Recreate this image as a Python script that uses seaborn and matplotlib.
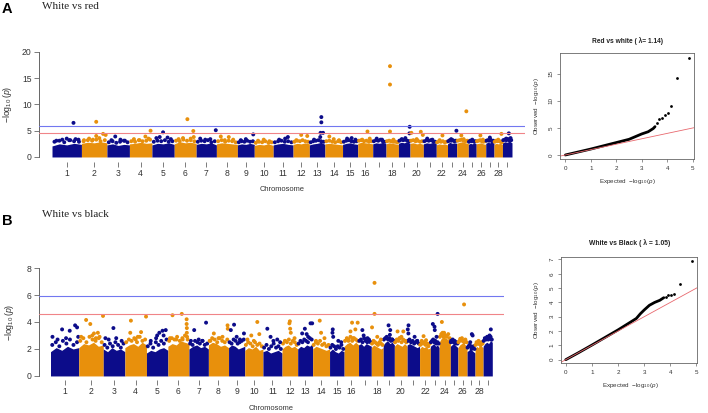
import numpy as np
import pandas as pd
import matplotlib
matplotlib.use("Agg")
import matplotlib.pyplot as plt
import seaborn as sns

# autosome lengths in Mb (29 chromosomes)
chrom_len = [157, 136, 120, 120, 119, 117, 108, 112, 90, 101, 106, 87, 83, 94,
             81, 80, 71, 66, 62, 71, 69, 60, 49, 62, 42, 51, 44, 45, 51]
chrom_lab = [str(i) for i in range(1, 17)] + ['', '18', '', '20', '', '22', '',
                                             '24', '', '26', '', '28', '']

# thresholds
line_blue = 5.9
line_red = 4.6

# dense part of each chromosome, upper edge of the solid cloud (-log10 p)
a_env = [[2.1, 2.5, 2.3, 2.6, 2.4], [2.6, 2.8, 2.7, 2.9, 2.7], [2.3, 2.5, 2.2, 2.4, 2.3],
         [2.5, 2.6, 2.8, 2.6, 2.7], [2.3, 2.6, 2.5, 2.7, 2.4], [2.5, 2.9, 2.7, 2.8, 2.6],
         [2.4, 2.6, 2.5, 2.7, 2.3], [2.5, 2.7, 2.6, 2.5, 2.4], [2.3, 2.5, 2.4, 2.6, 2.4],
         [2.2, 2.4, 2.3, 2.5, 2.2], [2.3, 2.5, 2.6, 2.4, 2.3], [2.4, 2.6, 2.5, 2.7, 2.5],
         [2.3, 2.5, 2.6, 2.8, 2.4], [2.5, 2.6, 2.5, 2.4, 2.3], [2.4, 2.6, 2.7, 2.5, 2.4],
         [2.6, 2.8, 2.7, 2.6, 2.5], [2.5, 2.7, 2.6, 2.8, 2.5], [2.5, 2.7, 2.6, 2.5, 2.4],
         [2.6, 2.8, 2.7, 2.9, 2.6], [2.6, 2.7, 2.5, 2.6, 2.4], [2.5, 2.7, 2.6, 2.8, 2.5],
         [2.3, 2.5, 2.4, 2.5, 2.3], [2.5, 2.8, 2.6, 2.7, 2.6], [2.6, 2.8, 2.9, 2.7, 2.6],
         [2.4, 2.6, 2.5, 2.7, 2.5], [2.5, 2.6, 2.7, 2.5, 2.4], [2.6, 2.8, 2.7, 2.9, 2.6],
         [2.4, 2.6, 2.5, 2.6, 2.4], [2.7, 2.9, 2.8, 3.0, 2.7]]

# loose points just above the solid cloud, one per equal bin along the chromosome
a_speck = [[2.9, 3.1, 2.8, 3.2, 3.0, 2.9], [3.0, 3.2, 3.1, 3.3, 3.0, 3.2], [2.8, 3.0, 2.7, 2.9, 3.1, 2.8],
           [3.0, 2.9, 3.2, 3.0, 3.1, 3.3], [2.9, 3.1, 3.0, 3.2, 2.9, 3.0], [3.1, 3.0, 3.3, 3.1, 3.2, 3.0],
           [2.9, 3.1, 3.0, 3.2, 2.8, 3.0], [3.0, 3.2, 2.9, 3.1, 3.0, 2.8], [2.8, 3.0, 2.9, 3.1, 2.9, 3.0],
           [2.7, 2.9, 2.8, 3.0, 2.7, 2.8], [2.8, 3.0, 3.1, 2.9, 3.0, 2.8], [2.9, 3.1, 3.0, 3.2, 3.0, 2.9],
           [2.8, 3.0, 3.1, 3.2, 3.0, 2.9], [3.0, 3.1, 2.9, 2.8, 3.0, 2.8], [2.9, 3.1, 3.2, 3.0, 2.9, 3.0],
           [3.1, 3.2, 3.0, 3.1, 2.9, 3.0], [3.0, 3.2, 3.1, 3.3, 3.0, 2.9], [3.0, 3.1, 3.0, 2.9, 2.9, 2.8],
           [3.1, 3.3, 3.2, 3.3, 3.1, 3.0], [3.1, 3.2, 3.0, 3.1, 2.9, 3.0], [3.0, 3.2, 3.1, 3.2, 3.0, 2.9],
           [2.8, 3.0, 2.9, 3.0, 2.8, 2.9], [3.0, 3.2, 3.1, 3.2, 3.0, 3.1], [3.1, 3.2, 3.3, 3.1, 3.0, 3.1],
           [2.9, 3.1, 3.0, 3.1, 2.9, 3.0], [3.0, 3.1, 3.2, 3.0, 2.9, 3.0], [3.1, 3.2, 3.1, 3.3, 3.0, 3.1],
           [2.9, 3.1, 3.0, 3.1, 2.9, 2.8], [3.2, 3.3, 3.2, 3.4, 3.1, 3.2]]

# single SNPs: (chromosome, relative position, -log10 p)
a_hits = [(1, .15, 3.1), (1, .35, 3.3), (1, .5, 3.5), (1, .62, 3.2), (1, .73, 6.5), (1, .8, 3.4), (1, .9, 3.3),
          (2, .1, 3.2), (2, .3, 3.5), (2, .45, 3.3), (2, .58, 6.7), (2, .58, 4.0), (2, .7, 3.6), (2, .85, 4.4), (2, .95, 4.2),
          (3, .2, 3.2), (3, .37, 3.9), (3, .6, 3.3), (3, .8, 3.1),
          (4, .2, 3.4), (4, .45, 3.2), (4, .71, 3.9), (4, .85, 3.5), (4, .94, 5.0),
          (5, .2, 3.6), (5, .35, 3.8), (5, .5, 4.7), (5, .7, 3.7), (5, .85, 3.4),
          (6, .2, 3.4), (6, .4, 3.6), (6, .6, 7.2), (6, .75, 3.5), (6, .87, 4.95), (6, .89, 3.8),
          (7, .2, 3.5), (7, .45, 3.3), (7, .7, 3.4), (7, .97, 5.1),
          (8, .21, 3.9), (8, .4, 3.2), (8, .59, 3.8), (8, .8, 3.3),
          (9, .2, 3.2), (9, .5, 3.4), (9, .94, 4.3),
          (10, .2, 3.1), (10, .5, 3.3), (10, .8, 3.0),
          (11, .3, 3.3), (11, .6, 3.5), (11, .74, 3.8),
          (12, .2, 3.2), (12, .5, 4.2), (12, .87, 4.0),
          (13, .3, 3.3), (13, .7, 3.8), (13, .72, 4.6), (13, .77, 6.6), (13, .77, 7.6), (13, .88, 4.6),
          (14, .25, 3.9), (14, .5, 3.4), (14, .8, 3.2),
          (15, .3, 3.5), (15, .6, 3.6), (15, .85, 3.3),
          (16, .3, 3.3), (16, .65, 4.85), (16, .8, 3.5),
          (17, .3, 3.5), (17, .7, 3.3),
          (18, .32, 17.3), (18, .32, 13.8), (18, .32, 4.85), (18, .6, 3.3),
          (19, .3, 3.4), (19, .6, 3.6), (19, .95, 4.5), (19, .97, 5.75),
          (20, .1, 4.6), (20, .5, 3.4), (20, .81, 4.8), (20, .96, 4.2),
          (21, .3, 3.5), (21, .7, 3.3),
          (22, .3, 3.2), (22, .55, 4.1),
          (23, .4, 3.4), (23, .97, 5.0),
          (24, .4, 4.1), (24, .6, 3.4), (24, .83, 8.7),
          (25, .5, 3.3),
          (26, .44, 4.1), (26, .7, 3.3),
          (27, .5, 3.7),
          (28, .5, 3.3), (28, .88, 4.4),
          (29, .4, 3.5), (29, .67, 4.5), (29, .85, 3.6)]

b_env = [[1.8, 2.1, 1.9, 2.2, 2.0, 2.1], [2.1, 2.4, 2.3, 2.5, 2.2, 2.3], [2.0, 1.8, 2.1, 1.9, 2.0, 1.8],
         [2.1, 2.3, 2.4, 2.2, 2.5, 2.3], [1.7, 1.9, 1.8, 2.0, 2.1, 1.9], [2.2, 2.4, 2.3, 2.6, 2.5, 2.4],
         [2.0, 2.2, 2.3, 2.1, 2.2, 2.0], [2.3, 2.5, 2.4, 2.2, 2.3, 2.1], [2.1, 2.3, 2.2, 2.0, 2.1, 2.2],
         [1.9, 2.1, 2.0, 2.2, 1.9, 2.0], [1.8, 1.9, 1.7, 1.8, 1.9, 1.7], [2.0, 2.2, 2.3, 2.1, 2.2, 2.0],
         [2.0, 2.2, 2.1, 2.3, 2.2, 2.4], [2.0, 2.2, 2.1, 2.0, 1.9, 2.0], [1.8, 2.0, 1.8, 1.7, 1.9, 1.8],
         [2.2, 2.4, 2.5, 2.3, 2.5, 2.3], [2.3, 2.4, 2.2, 2.4, 2.3, 2.2], [2.1, 2.3, 2.2, 2.1, 2.0, 2.1],
         [2.3, 2.5, 2.6, 2.4, 2.5, 2.3], [2.2, 2.4, 2.3, 2.2, 2.4, 2.2], [2.3, 2.4, 2.3, 2.2, 2.1, 2.2],
         [2.0, 2.2, 2.1, 2.2, 2.0, 2.1], [2.2, 2.3, 2.4, 2.2, 2.3, 2.1], [2.5, 2.8, 2.9, 2.8, 2.7, 2.5],
         [2.2, 2.3, 2.4, 2.3, 2.2, 2.1], [2.1, 2.3, 2.4, 2.5, 2.3, 2.2], [1.8, 1.9, 2.0, 1.9, 1.8, 1.7],
         [2.0, 2.2, 2.1, 2.3, 2.2, 2.1], [2.2, 2.4, 2.5, 2.4, 2.6, 2.5]]

b_speck = [[2.3, 2.5, 2.2, 2.6, 2.4, 2.7, 2.3, 2.5], [2.6, 2.8, 2.5, 2.9, 2.7, 2.6, 2.8, 2.5],
           [2.3, 2.1, 2.4, 2.2, 2.5, 2.3, 2.1, 2.4], [2.5, 2.7, 2.6, 2.8, 2.5, 2.9, 2.6, 2.7],
           [2.2, 2.4, 2.1, 2.5, 2.3, 2.6, 2.4, 2.7], [2.6, 2.8, 2.7, 2.9, 2.6, 2.8, 3.0, 2.7],
           [2.4, 2.3, 2.6, 2.5, 2.4, 2.6, 2.3, 2.4], [2.6, 2.8, 2.7, 2.5, 2.8, 2.6, 2.5, 2.7],
           [2.5, 2.4, 2.7, 2.6, 2.4, 2.5, 2.6, 2.7], [2.3, 2.5, 2.4, 2.2, 2.5, 2.3, 2.4, 2.2],
           [2.1, 2.3, 2.0, 2.2, 2.4, 2.1, 2.2, 2.0], [2.4, 2.6, 2.5, 2.7, 2.4, 2.6, 2.5, 2.3],
           [2.4, 2.6, 2.5, 2.7, 2.6, 2.5, 2.8, 2.7], [2.3, 2.5, 2.4, 2.6, 2.3, 2.4, 2.2, 2.3],
           [2.1, 2.3, 2.2, 2.0, 2.2, 2.1, 2.3, 2.0], [2.6, 2.8, 2.7, 2.9, 2.6, 2.8, 2.7, 2.6],
           [2.6, 2.7, 2.5, 2.8, 2.6, 2.5, 2.7, 2.5], [2.4, 2.6, 2.5, 2.4, 2.3, 2.5, 2.4, 2.3],
           [2.7, 2.8, 2.9, 2.7, 2.8, 2.6, 2.7, 2.6], [2.5, 2.7, 2.6, 2.8, 2.5, 2.7, 2.6, 2.5],
           [2.6, 2.7, 2.5, 2.6, 2.4, 2.5, 2.6, 2.4], [2.3, 2.5, 2.4, 2.5, 2.3, 2.4, 2.2, 2.4],
           [2.5, 2.6, 2.7, 2.5, 2.6, 2.4, 2.5, 2.4], [2.9, 3.1, 3.0, 3.2, 3.0, 2.9, 3.1, 2.8],
           [2.5, 2.6, 2.7, 2.5, 2.6, 2.4, 2.5, 2.4], [2.5, 2.6, 2.7, 2.8, 2.6, 2.5, 2.7, 2.5],
           [2.1, 2.2, 2.3, 2.2, 2.0, 2.1, 2.2, 2.0], [2.3, 2.5, 2.4, 2.6, 2.4, 2.3, 2.5, 2.4],
           [2.6, 2.8, 2.7, 2.9, 2.7, 2.8, 2.9, 2.7]]

b_hits = [(1, .07, 2.9), (1, .25, 2.7), (1, .41, 3.45), (1, .55, 2.8), (1, .68, 3.35), (1, .87, 3.75), (1, .94, 3.6), (1, .98, 2.9),
          (2, .1, 2.9), (2, .3, 4.15), (2, .47, 3.85), (2, .55, 3.0), (2, .62, 3.15), (2, .7, 2.8), (2, .78, 3.2), (2, .85, 2.9), (2, .99, 4.45),
          (3, .1, 2.8), (3, .25, 2.7), (3, .47, 3.55), (3, .6, 2.8), (3, .85, 2.6),
          (4, .25, 3.2), (4, .28, 4.1), (4, .5, 2.7), (4, .6, 2.9), (4, .75, 3.25), (4, .98, 4.4),
          (5, .2, 2.6), (5, .45, 2.8), (5, .5, 3.0), (5, .6, 3.2), (5, .75, 3.35), (5, .8, 3.0), (5, .9, 3.4),
          (6, .1, 2.8), (6, .22, 4.5), (6, .4, 2.7), (6, .66, 4.6), (6, .7, 2.7), (6, .89, 4.2), (6, .89, 3.85), (6, .9, 3.55), (6, .9, 3.2), (6, .91, 2.9),
          (7, .1, 2.6), (7, .27, 3.4), (7, .5, 2.7), (7, .7, 2.6), (7, .88, 3.95),
          (8, .1, 2.6), (8, .27, 3.15), (8, .5, 2.8), (8, .7, 2.9), (8, .95, 3.75), (8, .96, 3.5),
          (9, .14, 3.4), (9, .34, 3.8), (9, .5, 2.9), (9, .7, 2.7), (9, .95, 3.15),
          (10, .15, 2.7), (10, .36, 3.0), (10, .5, 2.6), (10, .69, 4.0), (10, .8, 3.1),
          (11, .23, 3.5), (11, .4, 2.9), (11, .55, 2.6), (11, .75, 2.7), (11, .9, 2.5),
          (12, .2, 2.6), (12, .47, 3.9), (12, .5, 4.05), (12, .52, 3.5), (12, .56, 3.2), (12, .8, 2.8),
          (13, .3, 3.15), (13, .48, 3.5), (13, .6, 3.1), (13, .7, 2.9), (13, .86, 3.9), (13, .97, 3.9),
          (14, .2, 2.6), (14, .42, 4.1), (14, .5, 3.2), (14, .7, 2.8),
          (15, .2, 3.2), (15, .22, 3.45), (15, .25, 2.9), (15, .6, 2.6), (15, .8, 2.5),
          (16, .3, 2.6), (16, .44, 3.3), (16, .55, 3.95), (16, .6, 2.8), (16, .78, 3.45), (16, .94, 3.95),
          (17, .3, 3.4), (17, .4, 3.0), (17, .7, 2.8), (17, .85, 2.6),
          (18, .06, 3.6), (18, .27, 4.6), (18, .27, 6.9), (18, .5, 2.9), (18, .8, 2.7),
          (19, .3, 2.8), (19, .48, 3.75), (19, .6, 3.05), (19, .63, 3.4), (19, .8, 2.7),
          (20, .25, 3.3), (20, .4, 2.8), (20, .55, 2.9), (20, .7, 3.3), (20, .85, 2.6),
          (21, .05, 3.45), (21, .1, 3.15), (21, .11, 3.75), (21, .6, 2.9), (21, .8, 2.6),
          (22, .2, 2.6), (22, .37, 2.95), (22, .6, 2.65),
          (23, .28, 3.85), (23, .47, 3.65), (23, .5, 3.4), (23, .7, 2.9), (23, .82, 4.6),
          (24, .24, 4.0), (24, .3, 3.2), (24, .4, 2.9), (24, .5, 3.0),
          (25, .1, 2.6), (25, .5, 2.5),
          (26, .25, 2.75), (26, .5, 2.6), (26, .67, 5.3),
          (27, .4, 2.5), (27, .6, 3.1), (27, .7, 3.0),
          (28, .4, 2.4), (28, .7, 2.3),
          (29, .4, 2.8), (29, .7, 3.0), (29, .84, 3.45), (29, .9, 2.7)]

# QQ plots: expected vs observed -log10(p)
qa_exp = [0, 0.5, 1, 1.5, 2, 2.5, 3, 3.25, 3.45, 3.52]
qa_obs = [0, 0.55, 1.1, 1.7, 2.3, 2.9, 3.9, 4.3, 4.9, 5.25]
qa_top_exp = [3.59, 3.68, 3.78, 3.91, 4.02, 4.15, 4.4, 4.86]
qa_top_obs = [5.86, 6.67, 6.8, 7.4, 7.7, 9.0, 14.3, 18.0]

qb_exp = [0, 0.5, 1, 1.5, 2, 2.5, 2.7, 2.85, 3.0, 3.2, 3.4, 3.6, 3.75]
qb_obs = [0, 0.5, 1.02, 1.55, 2.08, 2.65, 2.88, 3.2, 3.47, 3.8, 4.0, 4.15, 4.33]
qb_top_exp = [3.83, 3.93, 4.02, 4.15, 4.37, 4.83]
qb_top_obs = [4.4, 4.5, 4.53, 4.58, 5.28, 6.88]

navy = '#0c0c8a'
orange = '#e8900c'
blue_c = '#7277f0'
red_c = '#f08488'
axis_c = '#666666'
text_c = '#333333'

sns.set_style('white')
plt.rcParams['font.family'] = ['Liberation Sans', 'DejaVu Sans']
plt.rcParams['mathtext.fontset'] = 'custom'
plt.rcParams['mathtext.rm'] = 'Liberation Sans'
plt.rcParams['mathtext.it'] = 'Liberation Sans:italic'

W, H = 708, 413
fig = plt.figure(figsize=(W / 100, H / 100), dpi=100)


def px_axes(l, t, r, b):
    return fig.add_axes([l / W, 1 - b / H, (r - l) / W, (b - t) / H])


def ftext(x, y, s, **kw):
    fig.text(x / W, 1 - y / H, s, **kw)


starts = np.concatenate([[0], np.cumsum(chrom_len)[:-1]])
centers = starts + np.array(chrom_len) / 2


def manhattan(ax, env, speck, hits, xlim, ylim, ytop, ystep):
    rows = []
    for i in range(len(chrom_len)):
        col = navy if i % 2 == 0 else orange
        xs = starts[i] + chrom_len[i] * np.linspace(0, 1, len(env[i]))
        ax.fill_between(xs, 0, env[i], color=col, lw=0, zorder=1)
        n = len(speck[i])
        for k, v in enumerate(speck[i]):
            rows.append((i + 1, (k + 0.5) / n, v))
    rows += hits

    df = pd.DataFrame(rows, columns=['chr', 'frac', 'logp'])
    idx = df['chr'] - 1
    df['pos'] = starts[idx] + df['frac'] * np.array(chrom_len)[idx]
    df['grp'] = np.where(df['chr'] % 2 == 1, 'odd', 'even')
    sns.scatterplot(data=df, x='pos', y='logp', hue='grp',
                    palette={'odd': navy, 'even': orange},
                    s=8, linewidth=0, legend=False, ax=ax, zorder=2)

    ax.axhline(line_blue, color=blue_c, lw=0.8, zorder=3)
    ax.axhline(line_red, color=red_c, lw=0.8, zorder=3)

    ax.set_xlim(xlim)
    ax.set_ylim(ylim)
    ax.set_xticks(centers)
    ax.set_xticklabels(chrom_lab)
    yt = np.arange(0, ytop + 0.1, ystep)
    ax.set_yticks(yt)
    ax.set_yticklabels([str(int(v)) for v in yt])
    for s in ['top', 'right', 'bottom']:
        ax.spines[s].set_visible(False)
    ax.spines['left'].set_bounds(0, ytop)
    ax.spines['left'].set_color(axis_c)
    ax.spines['left'].set_linewidth(0.7)
    ax.tick_params(axis='both', length=3.8, width=0.6, color=axis_c,
                   labelsize=6.2, labelcolor=text_c, direction='out')
    ax.tick_params(axis='x', pad=1.5, bottom=True)
    ax.tick_params(axis='y', pad=1.5, left=True)
    ax.set_xlabel('')
    ax.set_ylabel('')


def qqplot(ax, cx, cy, tx, ty, xlim, ylim, yticks):
    sns.lineplot(x=cx, y=cy, color='black', lw=2.0, ax=ax)
    sns.scatterplot(x=tx, y=ty, color='black', s=4, linewidth=0, ax=ax)
    ax.axline((0, 0), slope=1, color='#e8686e', lw=0.6)
    ax.set_xlim(xlim)
    ax.set_ylim(ylim)
    ax.set_xticks(range(6))
    ax.set_yticks(yticks)
    for s in ax.spines.values():
        s.set_color(axis_c)
        s.set_linewidth(0.6)
    ax.tick_params(axis='both', length=2, width=0.5, color=axis_c,
                   labelsize=4.5, labelcolor=text_c, direction='out',
                   bottom=True, left=True)
    ax.tick_params(axis='x', pad=3)
    ax.tick_params(axis='y', pad=2.5)
    for lab in ax.get_yticklabels():
        lab.set_rotation(90)
        lab.set_va('center')
    ax.set_xlabel('')
    ax.set_ylabel('')


# panel A
ax1 = px_axes(39, 47.8, 525, 161.7)
manhattan(ax1, a_env, a_speck, a_hits, (-69.4, 2523.4), (-0.9, 20.8), 20, 5)
ftext(282, 189.3, 'Chromosome', ha='center', va='center', fontsize=5.4, color=text_c)
ftext(7, 104.5, r'$-\log_{10}(p)$', ha='center', va='center', rotation=90, fontsize=6.3, color=text_c)

ax2 = px_axes(560, 53.3, 694, 159.3)
qqplot(ax2, qa_exp, qa_obs, qa_top_exp, qa_top_obs, (-0.21, 5.05), (-0.8, 18.83), [0, 5, 10, 15])
ftext(627.3, 40.7, 'Red vs white ( \u03bb= 1.14)', ha='center', va='center', fontsize=4.8, fontweight='bold', color='#222222')
ftext(627, 182, r'Expected  $-\log_{10}(p)$', ha='center', va='center', fontsize=4.5, color=text_c)
ftext(536.5, 106.3, r'Observed  $-\log_{10}(p)$', ha='center', va='center', rotation=90, fontsize=4.5, color=text_c)

# panel B
ax3 = px_axes(39, 263.7, 504, 380)
manhattan(ax3, b_env, b_speck, b_hits, (-63.9, 2519), (-0.3, 8.32), 8, 2)
ftext(271.5, 408.7, 'Chromosome', ha='center', va='center', fontsize=5.4, color=text_c)
ftext(10, 322, r'$-\log_{10}(p)$', ha='center', va='center', rotation=90, fontsize=6.3, color=text_c)

ax4 = px_axes(561, 257.3, 697, 363)
qqplot(ax4, qb_exp, qb_obs, qb_top_exp, qb_top_obs, (-0.18, 5.02), (-0.23, 7.15), list(range(8)))
ftext(629.2, 243.3, 'White vs Black ( \u03bb = 1.05)', ha='center', va='center', fontsize=4.9, fontweight='bold', color='#222222')
ftext(630, 386, r'Expected  $-\log_{10}(p)$', ha='center', va='center', fontsize=4.5, color=text_c)
ftext(536.7, 310.2, r'Observed  $-\log_{10}(p)$', ha='center', va='center', rotation=90, fontsize=4.5, color=text_c)

# panel letters and titles
ftext(2, 12.7, 'A', ha='left', va='baseline', fontsize=10.5, fontweight='bold', color='black')
ftext(41.7, 8.7, 'White vs red', ha='left', va='baseline', fontsize=8, family='Liberation Serif', color='#222222')
ftext(2, 225, 'B', ha='left', va='baseline', fontsize=10.5, fontweight='bold', color='black')
ftext(41.7, 217.3, 'White vs black', ha='left', va='baseline', fontsize=8, family='Liberation Serif', color='#222222')

fig.savefig('out.png', dpi=100)
